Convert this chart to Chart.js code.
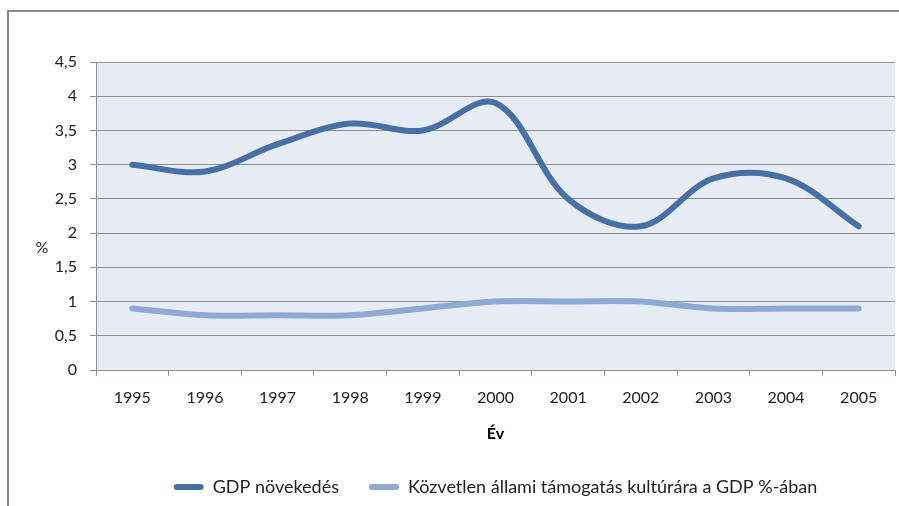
<!DOCTYPE html>
<html>
<head>
<meta charset="utf-8">
<script src="https://cdn.jsdelivr.net/npm/chart.js@4"></script>
<style>
  html, body { margin: 0; padding: 0; background: #fff; }
  #wrap { width: 899px; height: 506px; }
</style>
</head>
<body>
<div id="wrap"><canvas id="chart" width="899" height="506"></canvas></div>
<script>
var years = ['1995', '1996', '1997', '1998', '1999', '2000', '2001', '2002', '2003', '2004', '2005'];
var gdpGrowth = [3.0, 2.9, 3.3, 3.6, 3.5, 3.9, 2.5, 2.1, 2.8, 2.8, 2.1];
var cultureSupport = [0.9, 0.8, 0.8, 0.8, 0.9, 1.0, 1.0, 1.0, 0.9, 0.9, 0.9];
var seriesNames = ['GDP növekedés', 'Közvetlen állami támogatás kultúrára a GDP %-ában'];
var yAxisTitle = '%';
var xAxisTitle = 'Év';

var fontFamily = 'Lato, "Open Sans", sans-serif';
var textColor = '#222';
var gridColor = '#8f8f8f';

// frame, plot background and the "%" label
var decorPlugin = {
    id: 'decor',
    beforeDraw: function (chart) {
        var ctx = chart.ctx;
        var a = chart.chartArea;
        ctx.save();
        ctx.fillStyle = '#e8edf5';
        ctx.fillRect(a.left, a.top, a.right - a.left, a.bottom - a.top);
        ctx.strokeStyle = '#8a8a8a';
        ctx.lineWidth = 2;
        ctx.beginPath();
        ctx.moveTo(8, 506);
        ctx.lineTo(8, 11);
        ctx.lineTo(899, 11);
        ctx.stroke();
        ctx.restore();
    },
    afterDraw: function (chart) {
        var ctx = chart.ctx;
        var a = chart.chartArea;
        ctx.save();
        ctx.fillStyle = textColor;
        ctx.font = '16px ' + fontFamily;
        ctx.textAlign = 'center';
        ctx.textBaseline = 'middle';
        ctx.fillText(yAxisTitle, 42, (a.top + a.bottom) / 2 + 32);
        ctx.restore();
    }
};

new Chart(document.getElementById('chart'), {
    type: 'line',
    data: {
        labels: years,
        datasets: [{
            label: seriesNames[0],
            data: gdpGrowth,
            borderColor: '#4571a8',
            backgroundColor: '#4571a8',
            borderWidth: 6,
            borderCapStyle: 'round',
            tension: 0.35,
            pointRadius: 0,
            fill: false
        }, {
            label: seriesNames[1],
            data: cultureSupport,
            borderColor: '#8eaad6',
            backgroundColor: '#8eaad6',
            borderWidth: 6,
            borderCapStyle: 'round',
            tension: 0.35,
            pointRadius: 0,
            fill: false
        }]
    },
    options: {
        responsive: false,
        animation: false,
        layout: { padding: { left: 0, top: 62, right: 4, bottom: 0 } },
        plugins: {
            tooltip: { enabled: false },
            legend: {
                position: 'bottom',
                fullSize: false,
                labels: {
                    font: { family: fontFamily, size: 18 },
                    color: textColor,
                    boxWidth: 30,
                    boxHeight: 6,
                    padding: 30,
                    useBorderRadius: true,
                    borderRadius: 3,
                    generateLabels: function (chart) {
                        var items = Chart.defaults.plugins.legend.labels.generateLabels(chart);
                        items.forEach(function (it) { it.lineWidth = 0; });
                        return items;
                    }
                }
            }
        },
        scales: {
            x: {
                offset: true,
                grid: {
                    offset: true,
                    drawOnChartArea: false,
                    color: gridColor,
                    tickLength: 6
                },
                border: { color: gridColor },
                ticks: {
                    font: { family: fontFamily, size: 16 },
                    color: textColor,
                    padding: 12,
                    maxRotation: 0
                },
                title: {
                    display: true,
                    text: xAxisTitle,
                    font: { family: fontFamily, size: 16, weight: 'bold' },
                    color: '#000',
                    padding: { top: 0, bottom: 5 }
                },
                afterFit: function (scale) { scale.height = 78; }
            },
            y: {
                min: 0,
                max: 4.5,
                ticks: {
                    stepSize: 0.5,
                    font: { family: fontFamily, size: 16 },
                    color: textColor,
                    padding: 13,
                    callback: function (v) { return String(v).replace('.', ','); }
                },
                grid: { color: gridColor, tickLength: 6 },
                border: { color: gridColor },
                afterFit: function (scale) { scale.width = 96; }
            }
        }
    },
    plugins: [decorPlugin]
});
</script>
</body>
</html>
